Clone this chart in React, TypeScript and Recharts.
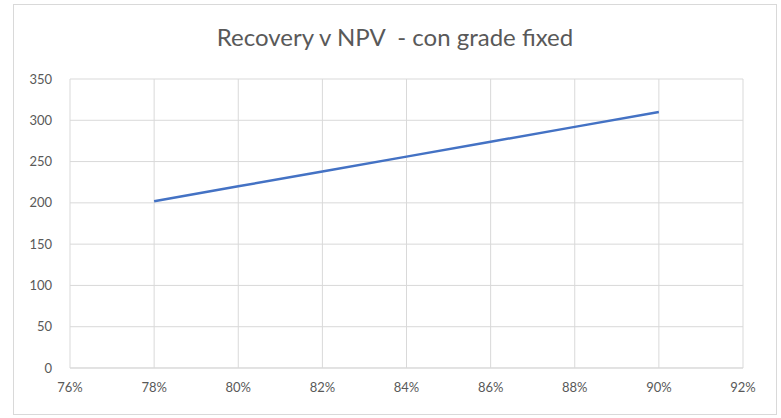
import React from 'react';
import { LineChart, Line, XAxis, YAxis, CartesianGrid } from 'recharts';

const recovery = [0.78, 0.8, 0.82, 0.84, 0.86, 0.88, 0.9];
const npv = [202, 220, 238, 256, 274, 292, 310];
const xTicks = [0.76, 0.78, 0.8, 0.82, 0.84, 0.86, 0.88, 0.9, 0.92];
const yTicks = [0, 50, 100, 150, 200, 250, 300, 350];

const data = recovery.map((r, i) => ({ recovery: r, npv: npv[i] }));

const FONT = 'Lato, "Liberation Sans", sans-serif';
const tickStyle = { fill: '#595959', fontSize: 13, fontFamily: FONT };

const App = () => {
  return (
    <div style={{ position: 'absolute', left: 0, top: 0, width: 781, height: 418, background: '#fff' }}>
      {/* chart border */}
      <div
        style={{
          position: 'absolute', left: 13, top: 4, width: 764, height: 411,
          border: '1px solid #d9d9d9', boxSizing: 'border-box',
        }}
      />
      <div
        style={{
          position: 'absolute', left: 13, top: 22, width: 764, textAlign: 'center',
          fontFamily: FONT, fontSize: 24, color: '#595959', lineHeight: '30px',
        }}
      >
        Recovery v NPV&nbsp; - con grade fixed
      </div>
      <div style={{ position: 'absolute', left: 0, top: 0 }}>
        <LineChart width={781} height={418} data={data} margin={{ top: 79, right: 38, bottom: 20, left: 0 }}>
          <CartesianGrid stroke="#d9d9d9" strokeWidth={1} />
          <XAxis
            dataKey="recovery"
            type="number"
            domain={[0.76, 0.92]}
            ticks={xTicks}
            tickFormatter={(v: number) => `${Math.round(v * 100)}%`}
            axisLine={{ stroke: '#d9d9d9' }}
            tickLine={false}
            tickSize={0}
            tickMargin={15}
            height={30}
            tick={tickStyle}
            interval={0}
          />
          <YAxis
            type="number"
            domain={[0, 350]}
            ticks={yTicks}
            axisLine={false}
            tickLine={false}
            tickSize={0}
            tickMargin={18}
            width={70}
            tick={tickStyle}
            interval={0}
          />
          <Line
            dataKey="npv"
            stroke="#4472c4"
            strokeWidth={2.5}
            dot={false}
            type="linear"
            isAnimationActive={false}
          />
        </LineChart>
      </div>
    </div>
  );
};

export default App;
